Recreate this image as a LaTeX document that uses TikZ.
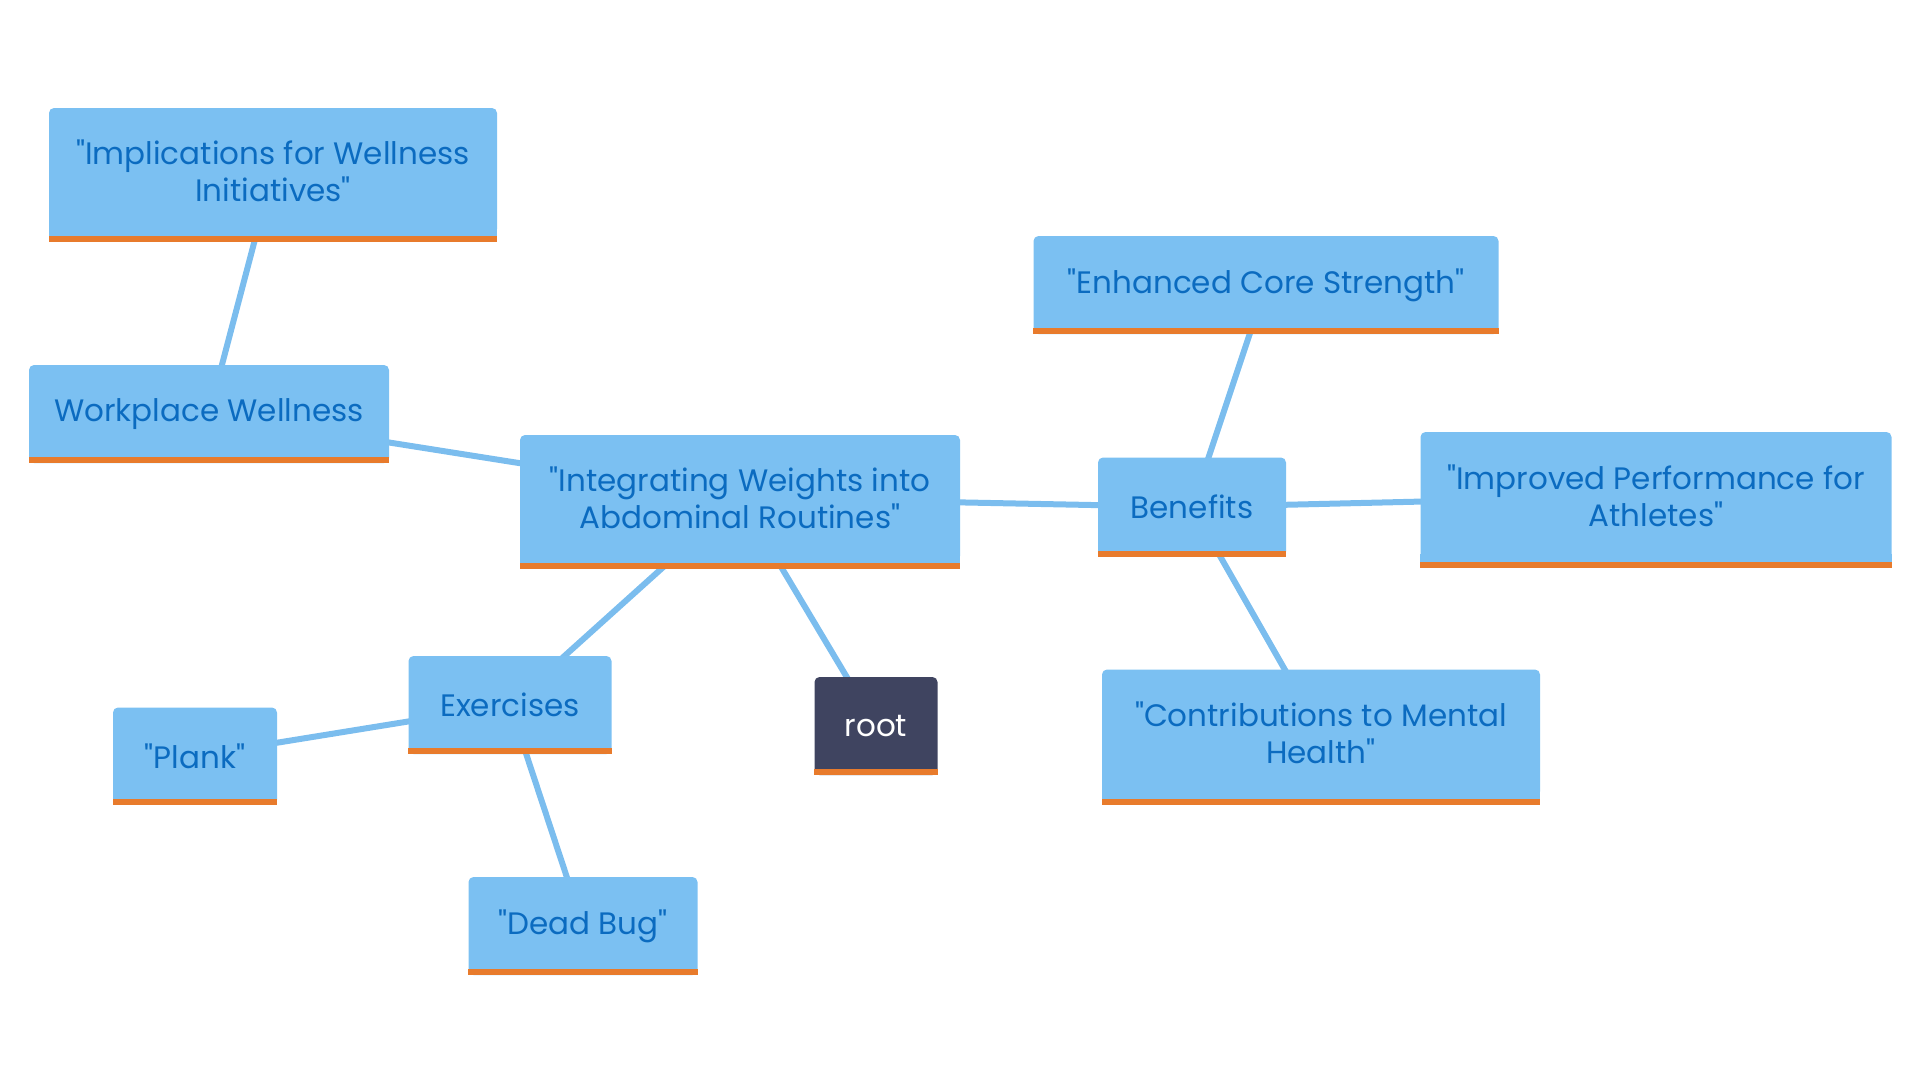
\documentclass[tikz,border=0pt]{standalone}
\usepackage{fontspec}
\setmainfont{Poppins}[Ligatures=TeXOff]
\usetikzlibrary{backgrounds}

\definecolor{boxblue}{HTML}{7BC0F2}
\definecolor{boxtext}{HTML}{0B6BC0}
\definecolor{barorange}{HTML}{E87B2C}
\definecolor{rootfill}{HTML}{3F4460}
\definecolor{linkblue}{HTML}{7BBDEE}

\begin{document}
\begin{tikzpicture}[x=1pt, y=-1pt,
    topic/.style={fill=boxblue, text=boxtext, rounded corners=5pt, align=center,
      inner sep=0pt, font=\fontsize{31}{36.7}\selectfont},
    rootbox/.style={topic, fill=rootfill, text=white},
    link/.style={draw=linkblue, line width=6pt}]
    \useasboundingbox (0,0) rectangle (1920,1080);

    % Main topic and root
    \node [topic, minimum width=440pt, minimum height=126pt] (main) at (740,498) {"Integrating Weights into\\Abdominal Routines"};
    \node [rootbox, minimum width=123pt, minimum height=98pt] (root) at (876,726) {root};

    % Workplace Wellness
    \node [topic, minimum width=360pt, minimum height=98pt] (work) at (209,414) {Workplace Wellness};
    \node [topic, minimum width=448pt, minimum height=126pt] (impl) at (273,171) {"Implications for Wellness\\Initiatives"};

    % Exercises
    \node [topic, minimum width=203pt, minimum height=98pt] (exer) at (510,705) {Exercises};
    \node [topic, minimum width=164pt, minimum height=97pt] (plank) at (195,756) {"Plank"};
    \node [topic, minimum width=229pt, minimum height=98pt] (bug) at (583,926) {"Dead Bug"};

    % Benefits
    \node [topic, minimum width=188pt, minimum height=99pt] (ben) at (1192,507) {Benefits};
    \node [topic, minimum width=465pt, minimum height=98pt] (core) at (1266,285) {"Enhanced Core Strength"};
    \node [topic, minimum width=471pt, minimum height=128pt] (perf) at (1656,496) {"Improved Performance for\\Athletes"};
    \node [topic, minimum width=438pt, minimum height=127pt] (mental) at (1321,733) {"Contributions to Mental\\Health"};

    % square bottom and orange bar (\e = extra height below the node)
    \foreach \n/\c/\e in {main/boxblue/8,root/rootfill/0,work/boxblue/0,impl/boxblue/8,exer/boxblue/0,
                          plank/boxblue/0,bug/boxblue/0,ben/boxblue/0,core/boxblue/0,perf/boxblue/8,mental/boxblue/8} {
        \fill [\c] ([yshift=6pt]\n.south west) rectangle ([yshift={-\e*1pt}]\n.south east);
        \fill [barorange] ([yshift={(6-\e)*1pt}]\n.south west) rectangle ([yshift={-\e*1pt}]\n.south east);
    }

    \begin{scope}[on background layer]
        \draw [link] (main.center) -- (work.center);
        \draw [link] (work.center) -- (impl.center);
        \draw [link] (main.center) -- (exer.center);
        \draw [link] (exer.center) -- (plank.center);
        \draw [link] (exer.center) -- (bug.center);
        \draw [link] (main.center) -- (root.center);
        \draw [link] (main.center) -- (ben.center);
        \draw [link] (ben.center) -- (core.center);
        \draw [link] (ben.center) -- (perf.center);
        \draw [link] (ben.center) -- (mental.center);
    \end{scope}
\end{tikzpicture}
\end{document}
